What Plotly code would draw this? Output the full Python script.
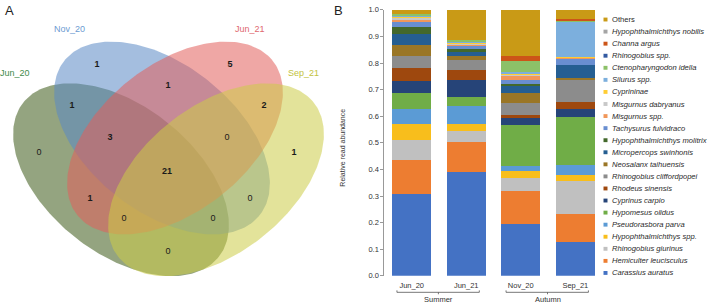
import numpy as np
import plotly.graph_objects as go

# ---------------- data ----------------
samples = ["Jun_20", "Jun_21", "Nov_20", "Sep_21"]
season_names = ["Summer", "Autumn"]
season_members = [["Jun_20", "Jun_21"], ["Nov_20", "Sep_21"]]

# species listed bottom -> top of the stacks
species = [
    "Carassius auratus", "Hemiculter leucisculus", "Rhinogobius giurinus",
    "Hypophthalmichthys spp.", "Pseudorasbora parva", "Hypomesus olidus",
    "Cyprinus carpio", "Rhodeus sinensis", "Rhinogobius cliffordpopei",
    "Neosalanx taihuensis", "Micropercops swinhonis", "Hypophthalmichthys molitrix",
    "Tachysurus fulvidraco", "Misgurnus spp.", "Misgurnus dabryanus", "Cyprininae",
    "Silurus spp.", "Ctenopharyngodon idella", "Rhinogobius spp.", "Channa argus",
    "Hypophthalmichthys nobilis", "Others",
]
carassius_auratus = [0.307, 0.392, 0.195, 0.128]
hemiculter_leucisculus = [0.129, 0.110, 0.125, 0.106]
rhinogobius_giurinus = [0.075, 0.042, 0.047, 0.123]
hypophthalmichthys_spp = [0.058, 0.025, 0.026, 0.023]
pseudorasbora_parva = [0.058, 0.070, 0.021, 0.036]
hypomesus_olidus = [0.060, 0.033, 0.152, 0.180]
cyprinus_carpio = [0.046, 0.065, 0.026, 0.033]
rhodeus_sinensis = [0.049, 0.037, 0.014, 0.025]
rhinogobius_cliffordpopei = [0.045, 0.037, 0.045, 0.086]
neosalanx_taihuensis = [0.042, 0.014, 0.035, 0.005]
micropercops_swinhonis = [0.040, 0.017, 0.030, 0.046]
hypophthalmichthys_molitrix = [0.028, 0.010, 0.004, 0.000]
tachysurus_fulvidraco = [0.016, 0.014, 0.016, 0.027]
misgurnus_spp = [0.013, 0.005, 0.016, 0.003]
misgurnus_dabryanus = [0.006, 0.004, 0.002, 0.000]
cyprininae = [0.005, 0.004, 0.009, 0.002]
silurus_spp = [0.003, 0.003, 0.003, 0.133]
ctenopharyngodon_idella = [0.004, 0.006, 0.043, 0.006]
rhinogobius_spp = [0.000, 0.000, 0.000, 0.000]
channa_argus = [0.000, 0.000, 0.016, 0.004]
hypophthalmichthys_nobilis = [0.000, 0.000, 0.000, 0.000]
others = [0.016, 0.112, 0.175, 0.034]

species_values = [
    carassius_auratus, hemiculter_leucisculus, rhinogobius_giurinus,
    hypophthalmichthys_spp, pseudorasbora_parva, hypomesus_olidus,
    cyprinus_carpio, rhodeus_sinensis, rhinogobius_cliffordpopei,
    neosalanx_taihuensis, micropercops_swinhonis, hypophthalmichthys_molitrix,
    tachysurus_fulvidraco, misgurnus_spp, misgurnus_dabryanus, cyprininae,
    silurus_spp, ctenopharyngodon_idella, rhinogobius_spp, channa_argus,
    hypophthalmichthys_nobilis, others,
]

y_ticks = [0.0, 0.1, 0.2, 0.3, 0.4, 0.5, 0.6, 0.7, 0.8, 0.9, 1.0]

# Venn data
venn_sets = ["Jun_20", "Nov_20", "Jun_21", "Sep_21"]
venn_counts = ["1", "5", "1", "1", "2", "3", "0", "0", "1", "21", "1", "0", "0", "0", "0"]

# ---------------- styles ----------------
species_colors = [
    "#4472C4", "#ED7D31", "#C0C0C0", "#F8BE1C", "#5B9BD5", "#70AD47",
    "#264478", "#9E480E", "#8C8C8C", "#9A7626", "#255E91", "#43682B",
    "#698ED0", "#F1975A", "#C8C8C8", "#FFCD33", "#7CAFDD", "#8CC168",
    "#335AA1", "#CC5518", "#A5A5A5", "#C99A16",
]
italic_flags = [True] * 21 + [False]

FONT = "Liberation Sans, Arial, sans-serif"
W, H = 709, 308

fig = go.Figure()

# ---------------- Venn (pixel-space axes x2/y2) ----------------
venn_geom = [  # cx, cy, a, b, angle(deg)
    (121, 181, 126, 75, 40),
    (162, 138, 126, 75, 40),
    (175, 138, 126, 75, -40),
    (216, 181, 126, 75, -40),
]
venn_fill = [
    "rgba(52,84,16,0.53)",
    "rgba(90,137,197,0.55)",
    "rgba(226,95,91,0.55)",
    "rgba(204,204,71,0.55)",
]
t = np.linspace(0, 2 * np.pi, 241)
for (cx, cy, a, b, ang), col in zip(venn_geom, venn_fill):
    th = np.deg2rad(ang)
    ex = cx + a * np.cos(t) * np.cos(th) - b * np.sin(t) * np.sin(th)
    ey = cy + a * np.cos(t) * np.sin(th) + b * np.sin(t) * np.cos(th)
    fig.add_trace(go.Scatter(x=ex, y=ey, xaxis="x2", yaxis="y2", mode="lines",
                             fill="toself", fillcolor=col, line=dict(width=0),
                             hoverinfo="skip", showlegend=False))

count_pos = [(97, 63), (230, 63), (168, 84), (72, 105), (264, 105), (110, 138),
             (227, 138), (39, 153), (294, 153), (167, 173), (90, 201), (250, 201),
             (124, 221), (213, 221), (168, 255)]
count_text = [("<b>%s</b>" % c) if c != "0" else c for c in venn_counts]
fig.add_trace(go.Scatter(x=[p[0] for p in count_pos], y=[p[1] for p in count_pos],
                         xaxis="x2", yaxis="y2", mode="text", text=count_text,
                         textfont=dict(family=FONT, size=9, color="#1a1a1a"),
                         hoverinfo="skip", showlegend=False))

set_label_pos = [(15, 71), (69, 26), (250, 26), (303, 71)]
set_label_col = ["#3F8A4A", "#6C9BD2", "#E0676F", "#C2C23E"]
annotations = []
for name, (px, py), col in zip(venn_sets, set_label_pos, set_label_col):
    annotations.append(dict(x=px, y=py, xref="x2", yref="y2", text=name, showarrow=False,
                            font=dict(family=FONT, size=9, color=col)))
annotations.append(dict(x=3, y=7, xref="x2", yref="y2", text="A", showarrow=False,
                        xanchor="left", font=dict(family=FONT, size=13, color="#222")))
annotations.append(dict(x=332, y=7, xref="x2", yref="y2", text="B", showarrow=False,
                        xanchor="left", font=dict(family=FONT, size=13, color="#222")))

# ---------------- stacked bars ----------------
for name, vals, col in zip(species, species_values, species_colors):
    fig.add_trace(go.Bar(x=samples, y=vals, name=name, marker=dict(color=col, line=dict(width=0)),
                         showlegend=False, xaxis="x", yaxis="y"))

# y title
annotations.append(dict(x=343, y=148, xref="x2", yref="y2", text="Relative read abundance",
                        textangle=-90, showarrow=False,
                        font=dict(family=FONT, size=7, color="#333")))

# season brackets
shapes = []
for sname, members in zip(season_names, season_members):
    i0 = samples.index(members[0])
    i1 = samples.index(members[-1])
    xl, xr, xc = i0 - 0.27, i1 + 0.24, (i0 + i1) / 2 - 0.01
    shapes.append(dict(type="path", xref="x", yref="y2",
                       path=f"M {xl} 295 L {xl} 297 L {xr} 297 L {xr} 295",
                       line=dict(color="#555", width=0.8)))
    shapes.append(dict(type="line", xref="x", yref="y2", x0=xc, x1=xc, y0=297, y1=299,
                       line=dict(color="#555", width=0.8)))
    annotations.append(dict(x=xc, y=304, xref="x", yref="y2", text=sname, showarrow=False,
                            yanchor="middle",
                            font=dict(family=FONT, size=7.5, color="#333")))

# manual legend (top -> bottom)
leg_y0, leg_dy = 16.0, 12.43
for k, idx in enumerate(range(len(species) - 1, -1, -1)):
    yy = leg_y0 + k * leg_dy
    shapes.append(dict(type="rect", xref="x2", yref="y2", x0=603.5, x1=607.5,
                       y0=yy - 2, y1=yy + 2, fillcolor=species_colors[idx],
                       line=dict(width=0)))
    txt = ("<i>%s</i>" % species[idx]) if italic_flags[idx] else species[idx]
    annotations.append(dict(x=609.5, y=yy, xref="x2", yref="y2", text=txt, showarrow=False,
                            xanchor="left", yanchor="middle",
                            font=dict(family=FONT, size=7.6, color="#2a2a2a")))

fig.update_layout(
    width=W, height=H, margin=dict(l=0, r=0, t=0, b=0),
    paper_bgcolor="white", plot_bgcolor="rgba(0,0,0,0)",
    barmode="stack", bargap=0.285, showlegend=False,
    font=dict(family=FONT),
    xaxis=dict(domain=[384.4 / W, 602.6 / W], anchor="y", showline=False, showgrid=False,
               zeroline=False, ticks="outside", ticklen=2, tickcolor="rgba(0,0,0,0)",
               tickfont=dict(family=FONT, size=7.5, color="#333"), fixedrange=True),
    yaxis=dict(domain=[28 / H, 302 / H], anchor="x", range=[0, 1], tickvals=y_ticks,
               tickformat=".1f", showline=True, linecolor="#999", linewidth=1,
               ticks="outside", ticklen=3, tickcolor="#999", showgrid=False, zeroline=False,
               tickfont=dict(family=FONT, size=7.5, color="#333"), fixedrange=True),
    xaxis2=dict(domain=[0, 1], anchor="y2", range=[0, W], visible=False, fixedrange=True),
    yaxis2=dict(domain=[0, 1], anchor="x2", range=[H, 0], visible=False, fixedrange=True),
    shapes=shapes, annotations=annotations,
)

fig.write_html("out.html")
